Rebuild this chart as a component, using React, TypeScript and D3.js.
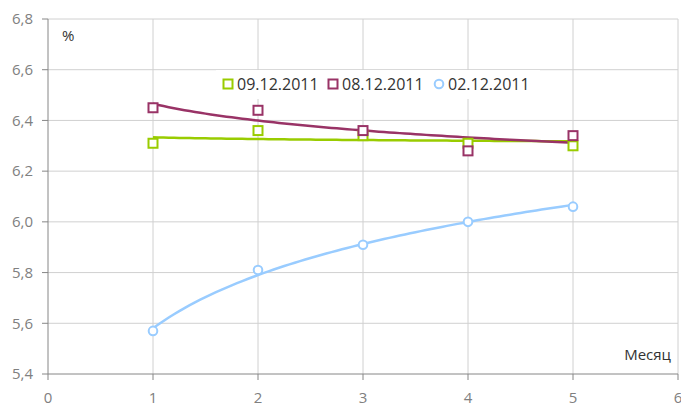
import React from 'react'
import * as d3 from 'd3'

const months = [1, 2, 3, 4, 5]
const s0912 = [6.31, 6.36, 6.34, 6.31, 6.3]
const s0812 = [6.45, 6.44, 6.36, 6.28, 6.34]
const s0212 = [5.57, 5.81, 5.91, 6.0, 6.06]
const xTicks = [0, 1, 2, 3, 4, 5, 6]
const yTicks = [5.4, 5.6, 5.8, 6.0, 6.2, 6.4, 6.6, 6.8]

const series = [
  { name: '09.12.2011', values: s0912, color: '#99cc00', shape: 'square' },
  { name: '08.12.2011', values: s0812, color: '#993366', shape: 'square' },
  { name: '02.12.2011', values: s0212, color: '#99ccff', shape: 'circle' },
]

// логарифмический тренд y = a + b ln(x)
const logFit = (xs: number[], ys: number[]) => {
  const l = xs.map((v) => Math.log(v))
  const ml = d3.mean(l)!
  const my = d3.mean(ys)!
  const b = d3.sum(l, (v, i) => (v - ml) * (ys[i] - my)) / d3.sum(l, (v) => (v - ml) ** 2)
  const a = my - b * ml
  return (x: number) => a + b * Math.log(x)
}

const W = 681
const H = 405
const left = 48
const right = 678
const top = 19
const bottom = 374
const font = '"Open Sans", "Noto Sans", sans-serif'

const App = () => {
  const x = d3.scaleLinear().domain([0, 6]).range([left, right])
  const y = d3.scaleLinear().domain([5.4, 6.8]).range([bottom, top])
  const line = d3
    .line<[number, number]>()
    .x((d) => x(d[0]))
    .y((d) => y(d[1]))
  const fmt = (v: number) => v.toFixed(1).replace('.', ',')

  const marker = (shape: string, color: string, cx: number, cy: number, key: string) =>
    shape === 'square' ? (
      <rect key={key} x={cx - 4.5} y={cy - 4.5} width={9} height={9} fill="#fff" stroke={color} strokeWidth={2} />
    ) : (
      <circle key={key} cx={cx} cy={cy} r={4.3} fill="#fff" stroke={color} strokeWidth={2} />
    )

  const legendX = [228, 333, 439]
  const legendY = 84

  return (
    <svg width={W} height={H} style={{ position: 'absolute', left: 0, top: 0, fontFamily: font }}>
      <rect width={W} height={H} fill="#fff" />
      {/* сетка */}
      {yTicks.slice(1).map((t) => (
        <line key={'gy' + t} x1={left} x2={right} y1={y(t)} y2={y(t)} stroke="#d0d0d0" strokeWidth={1} />
      ))}
      {xTicks.slice(1).map((t) => (
        <line key={'gx' + t} x1={x(t)} x2={x(t)} y1={top} y2={bottom} stroke="#d0d0d0" strokeWidth={1} />
      ))}
      {/* оси */}
      <line x1={left} x2={left} y1={top} y2={bottom} stroke="#868686" />
      <line x1={left} x2={right} y1={bottom} y2={bottom} stroke="#868686" />
      {yTicks.map((t) => (
        <g key={'ty' + t}>
          <line x1={left - 6} x2={left} y1={y(t)} y2={y(t)} stroke="#868686" />
          <text x={33} y={y(t)} dy="0.35em" textAnchor="end" fontSize={15} fill="#808080">
            {fmt(t)}
          </text>
        </g>
      ))}
      {xTicks.map((t) => (
        <g key={'tx' + t}>
          <line x1={x(t)} x2={x(t)} y1={bottom} y2={bottom + 6} stroke="#868686" />
          <text x={x(t)} y={398} dy="0.35em" textAnchor="middle" fontSize={15} fill="#808080">
            {t}
          </text>
        </g>
      ))}
      <text x={62} y={36} dy="0.35em" fontSize={15} fill="#333">%</text>
      <text x={671} y={355} dy="0.35em" textAnchor="end" fontSize={15} fill="#333">Месяц</text>

      {/* линии тренда */}
      {series.map((s) => {
        const f = logFit(months, s.values)
        const pts = d3.range(1, 5.001, 0.05).map((v) => [v, f(v)] as [number, number])
        return <path key={'tr' + s.name} d={line(pts)!} fill="none" stroke={s.color} strokeWidth={2.5} />
      })}
      {/* точки */}
      {series.map((s) =>
        s.values.map((v, i) => marker(s.shape, s.color, x(months[i]), y(v), s.name + i))
      )}

      {/* легенда */}
      <rect x={216} y={70} width={324} height={29} fill="#fff" />
      {series.map((s, i) => (
        <g key={'lg' + s.name}>
          {marker(s.shape, s.color, legendX[i], legendY, 'lm' + i)}
          <text x={legendX[i] + 9} y={legendY} dy="0.35em" fontSize={16} fill="#333">
            {s.name}
          </text>
        </g>
      ))}
    </svg>
  )
}

export default App
